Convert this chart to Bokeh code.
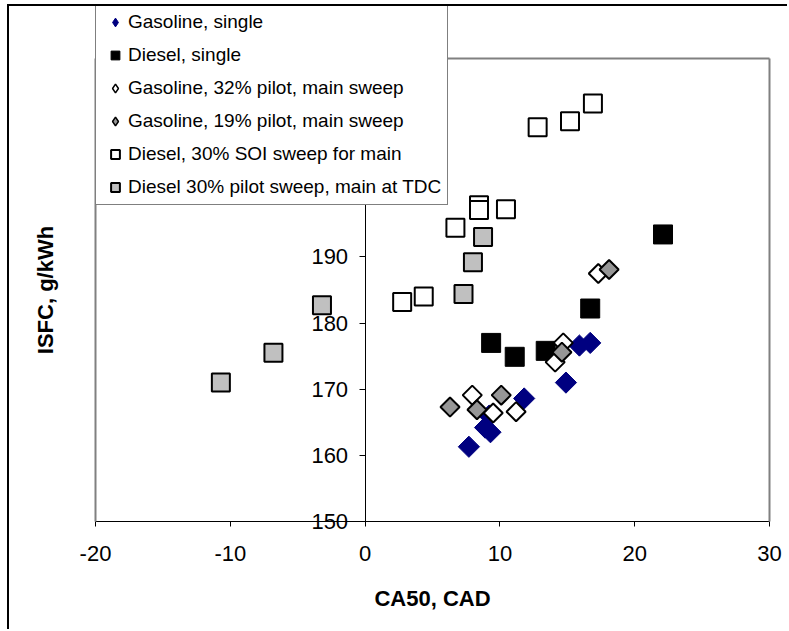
import math
from bokeh.plotting import figure
from bokeh.models import Legend, LegendItem, Label, Range1d, FixedTicker
from bokeh.embed import file_html
from bokeh.resources import INLINE

# ---- data ----
gas_single_x = [7.7, 8.9, 9.3, 9.2, 11.8, 14.9, 15.9, 16.7]
gas_single_y = [161.3, 164.2, 163.5, 166.0, 168.6, 171.0, 176.6, 177.0]

diesel_single_x = [9.35, 11.1, 13.4, 16.7, 22.1]
diesel_single_y = [177.0, 174.9, 175.8, 182.2, 193.4]

gas32_x = [7.95, 9.5, 11.2, 14.1, 14.7, 17.3]
gas32_y = [169.1, 166.4, 166.6, 174.1, 177.0, 187.5]

gas19_x = [6.3, 8.3, 10.1, 14.6, 18.1]
gas19_y = [167.3, 166.9, 169.1, 175.6, 188.1]

diesel30_x = [2.75, 4.35, 6.7, 8.45, 8.45, 10.45, 12.8, 15.2, 16.9]
diesel30_y = [183.2, 184.0, 194.4, 197.8, 197.1, 197.2, 209.6, 210.5, 213.2]

diesel_pilot_x = [-10.7, -6.8, -3.2, 7.3, 8.0, 8.75]
diesel_pilot_y = [171.0, 175.5, 182.7, 184.4, 189.2, 193.0]

series_labels = [
    "Gasoline, single",
    "Diesel, single",
    "Gasoline, 32% pilot, main sweep",
    "Gasoline, 19% pilot, main sweep",
    "Diesel, 30% SOI sweep for main",
    "Diesel 30% pilot sweep, main at TDC",
]

x_ticks = [-20, -10, 0, 10, 20, 30]
x_tick_labels = ["-20", "-10", "0", "10", "20", "30"]
y_ticks = [150, 160, 170, 180, 190, 200, 210, 220]

X_MIN, X_MAX = -20, 30
Y_MIN, Y_MAX = 150, 220

FONT = "Liberation Sans"

# ---- layout (pixels inside the figure) ----
W, H = 780, 625
PL, PT, PR, PB = 86, 52, 760, 515          # plot-area box
SX = (PR - PL) / (X_MAX - X_MIN)
SY = (PB - PT) / (Y_MAX - Y_MIN)
x_start = X_MIN - PL / SX
x_end = x_start + W / SX
y_end = Y_MAX + PT / SY
y_start = y_end - H / SY

p = figure(width=W, height=H, output_backend="svg", toolbar_location=None,
           x_range=Range1d(x_start, x_end), y_range=Range1d(y_start, y_end),
           min_border_left=0, min_border_right=0, min_border_top=0,
           min_border_bottom=0)
p.styles = {"margin-left": "7px", "margin-top": "4px",
            "border-left": "2px solid black", "border-top": "2px solid black"}
p.grid.visible = False
p.outline_line_color = None

# grey plot-area border (top, right, left)
p.segment(x0=[X_MIN, X_MAX, X_MIN], y0=[Y_MAX, Y_MIN, Y_MIN],
          x1=[X_MAX, X_MAX, X_MIN], y1=[Y_MAX, Y_MAX, Y_MAX],
          line_color="#808080", line_width=2)

NAVY, GREY_D, GREY_S = "#000080", "#969696", "#C0C0C0"
DIA = math.pi / 4
r1 = p.scatter(gas_single_x, gas_single_y, marker="square", angle=DIA, size=15,
               fill_color=NAVY, line_color=NAVY, line_width=1)
r2 = p.scatter(diesel_single_x, diesel_single_y, marker="square", size=19,
               fill_color="black", line_color="black", line_width=1)
r3 = p.scatter(gas32_x, gas32_y, marker="square", angle=DIA, size=13.5,
               fill_color="white", line_color="black", line_width=2)
r4 = p.scatter(gas19_x, gas19_y, marker="square", angle=DIA, size=13.5,
               fill_color=GREY_D, line_color="black", line_width=2)
r5 = p.scatter(diesel30_x, diesel30_y, marker="square", size=18,
               fill_color="white", line_color="black", line_width=2)
r6 = p.scatter(diesel_pilot_x, diesel_pilot_y, marker="square", size=18,
               fill_color=GREY_S, line_color="black", line_width=2)

# hidden legend swatches for the diamond series (legend ignores marker angle)
k1 = p.scatter(gas_single_x, gas_single_y, marker="diamond", fill_color=NAVY,
               line_color=NAVY, line_width=1, visible=False)
k3 = p.scatter(gas32_x, gas32_y, marker="diamond", fill_color="white",
               line_color="black", line_width=1.5, visible=False)
k4 = p.scatter(gas19_x, gas19_y, marker="diamond", fill_color=GREY_D,
               line_color="black", line_width=1.5, visible=False)

# axes, crossing at (0, 150)
xax = p.xaxis[0]
yax = p.yaxis[0]
xax.ticker = FixedTicker(ticks=x_ticks)
xax.major_label_overrides = {t: s for t, s in zip(x_ticks, x_tick_labels)}
xax.fixed_location = Y_MIN
xax.bounds = (X_MIN, X_MAX)
yax.ticker = FixedTicker(ticks=y_ticks)
yax.fixed_location = 0
yax.bounds = (Y_MIN, Y_MAX)
for ax in (xax, yax):
    ax.level = "underlay"
    ax.major_label_text_font = FONT
    ax.major_label_text_font_size = "22px"
    ax.major_label_text_color = "black"
    ax.axis_line_color = "black"
    ax.axis_line_width = 1
    ax.major_tick_line_color = "black"
    ax.major_tick_in = 0
    ax.minor_tick_line_color = None
xax.major_tick_out = 5
yax.major_tick_out = 6
xax.major_label_standoff = 19
yax.major_label_standoff = 11

xlab = Label(x=(X_MIN + X_MAX) / 2, y=Y_MIN - 77 / SY, text="CA50, CAD",
             text_align="center", text_baseline="middle", text_font=FONT,
             text_font_style="bold", text_font_size="22px", text_color="black")
ylab = Label(x=X_MIN - 50 / SX, y=(Y_MIN + Y_MAX) / 2, text="ISFC, g/kWh",
             angle=math.pi / 2, text_align="center", text_baseline="middle",
             text_font=FONT, text_font_style="bold", text_font_size="22px",
             text_color="black")
p.add_layout(xlab)
p.add_layout(ylab)

LEG_PAD, LEG_ROW, LEG_GAP, N = 6, 22, 11, len(series_labels)
leg_h = 2 * LEG_PAD + N * LEG_ROW + (N - 1) * LEG_GAP
legend = Legend(
    items=[LegendItem(label=lab, renderers=[r])
           for lab, r in zip(series_labels, [k1, r2, k3, k4, r5, r6])],
    location=(PL, H - leg_h), orientation="vertical",
    label_text_font=FONT, label_text_font_size="19px", label_text_color="black",
    glyph_width=26, glyph_height=LEG_ROW, label_height=LEG_ROW, spacing=LEG_GAP,
    padding=LEG_PAD, margin=0, label_standoff=0,
    border_line_color="black", border_line_width=1,
    background_fill_color="white", background_fill_alpha=1.0,
    inactive_fill_alpha=0.0,
)
p.add_layout(legend, "center")

open("out.html", "w").write(file_html(p, INLINE))
